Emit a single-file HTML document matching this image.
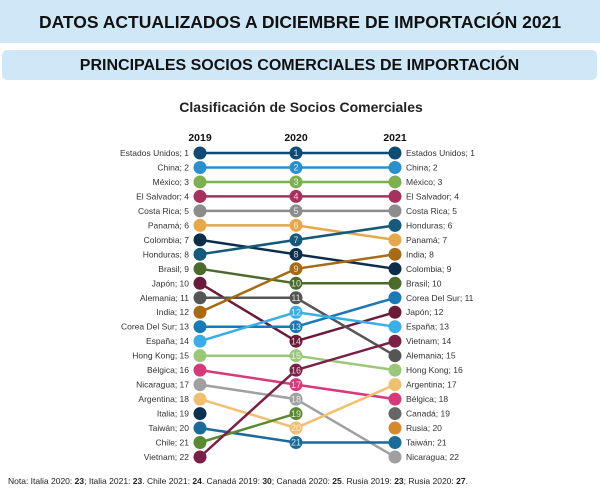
<!DOCTYPE html>
<html><head><meta charset="utf-8"><style>
html,body{margin:0;padding:0;background:#fff;width:600px;height:499px;overflow:hidden;font-family:"Liberation Sans",sans-serif;}
.b1{position:absolute;left:0;top:0;width:600px;height:43px;background:#cfe8f7;text-align:center;line-height:45px;font-weight:bold;font-size:17.5px;color:#111;}
.b2{position:absolute;left:2px;top:50px;width:595px;height:30px;background:#cfe8f7;border-radius:5px;text-align:center;line-height:31px;font-weight:bold;font-size:16px;color:#111;}
.note{position:absolute;left:8px;top:476px;font-size:8.5px;color:#222;white-space:nowrap;}
svg{position:absolute;left:0;top:0;}
</style></head><body>
<div class="b1">DATOS ACTUALIZADOS A DICIEMBRE DE IMPORTACIÓN 2021</div>
<div class="b2">PRINCIPALES SOCIOS COMERCIALES DE IMPORTACIÓN</div>
<svg id="s" width="600" height="499" xmlns="http://www.w3.org/2000/svg" font-family="Liberation Sans, sans-serif">
<text x="301" y="112" text-anchor="middle" font-size="14" font-weight="bold" fill="#222">Clasificación de Socios Comerciales</text>
<text x="200" y="141" text-anchor="middle" font-size="10.5" font-weight="bold" fill="#111">2019</text>
<text x="296" y="141" text-anchor="middle" font-size="10.5" font-weight="bold" fill="#111">2020</text>
<text x="395" y="141" text-anchor="middle" font-size="10.5" font-weight="bold" fill="#111">2021</text>
</svg>
<div class="note">Nota: Italia 2020: <b>23</b>; Italia 2021: <b>23</b>. Chile 2021: <b>24</b>. Canadá 2019: <b>30</b>; Canadá 2020: <b>25</b>. Rusia 2019: <b>23</b>; Rusia 2020: <b>27</b>.</div>
<script>
var d=[["Estados Unidos",1,1,1,"#0f4c75"],["China",2,2,2,"#2a8fcf"],["México",3,3,3,"#7cb050"],["El Salvador",4,4,4,"#a8305e"],["Costa Rica",5,5,5,"#8c8c8c"],["Panamá",6,6,7,"#e8a84a"],["Colombia",7,8,9,"#0b2e4a"],["Honduras",8,7,6,"#155a7a"],["Brasil",9,10,10,"#4c6b2a"],["Japón",10,14,12,"#6b1a3a"],["Alemania",11,11,15,"#555555"],["India",12,9,8,"#a66b14"],["Corea Del Sur",13,13,11,"#1a7ab5"],["España",14,12,13,"#3aaee8"],["Hong Kong",15,15,16,"#98c878"],["Bélgica",16,17,18,"#d63a7a"],["Nicaragua",17,18,22,"#a0a0a0"],["Argentina",18,20,17,"#f0c070"],["Italia",19,0,0,"#0b3050"],["Taiwán",20,21,21,"#1a6a9a"],["Chile",21,19,0,"#5a8a30"],["Vietnam",22,16,14,"#7a1f45"],["Canadá",0,0,19,"#666666"],["Rusia",0,0,20,"#d4892a"]];
var X=[200,296,395],Y=function(r){return 153+(r-1)*14.476};
var h="";
d.forEach(function(s){var p=[];for(var i=0;i<3;i++)if(s[i+1])p.push(X[i]+","+Y(s[i+1]).toFixed(1));
if(p.length>1)h+='<polyline points="'+p.join(" ")+'" fill="none" stroke="'+s[4]+'" stroke-width="2.5"/>';});
d.forEach(function(s){for(var i=0;i<3;i++){if(!s[i+1])continue;var y=Y(s[i+1]);
if(i==1){h+='<circle cx="296" cy="'+y+'" r="6.5" fill="'+s[4]+'"/><text x="296" y="'+(y+3.2)+'" text-anchor="middle" font-size="9" fill="#fff" opacity="0.8">'+s[2]+'</text>';}
else h+='<circle cx="'+X[i]+'" cy="'+y+'" r="6.5" fill="'+s[4]+'"/>';}
if(s[1])h+='<text x="189" y="'+(Y(s[1])+3)+'" text-anchor="end" font-size="8.5" fill="#333">'+s[0]+'; '+s[1]+'</text>';
if(s[3])h+='<text x="406" y="'+(Y(s[3])+3)+'" font-size="8.5" fill="#333">'+s[0]+'; '+s[3]+'</text>';});
document.getElementById("s").insertAdjacentHTML("beforeend",h);
</script>
</body></html>
